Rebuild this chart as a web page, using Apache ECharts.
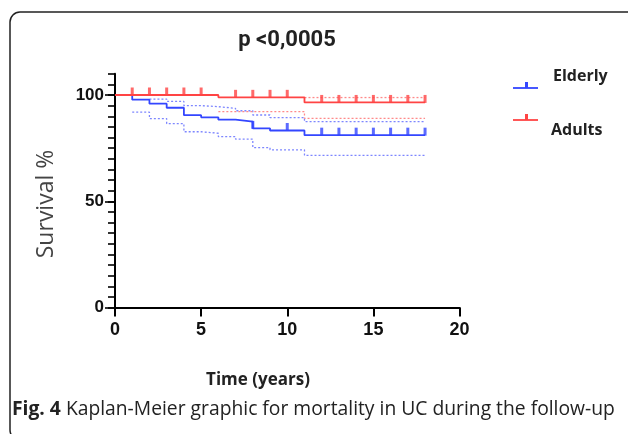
<!DOCTYPE html>
<html><head><meta charset="utf-8">
<script src="https://cdn.jsdelivr.net/npm/echarts@6/dist/echarts.min.js"></script>
<style>html,body{margin:0;padding:0;background:#fff}#c{width:628px;height:434px}</style>
</head><body><div id="c"></div>
<script>
const seriesNames = ['Elderly', 'Adults'];
const elderlyTimes = [0, 1, 2, 3, 4, 5, 6, 7, 8, 9, 11, 18];
const elderlySurv = [100, 97.8, 95.9, 94.0, 90.5, 89.5, 88.4, 87.5, 84.3, 83.3, 81.1, 81.1];
const elderlyUpperTimes = [2, 3, 4, 5, 6, 7, 8, 9, 11, 18];
const elderlyUpper = [98.1, 97.0, 95.0, 94.5, 93.7, 92.6, 90.6, 89.4, 87.5, 87.5];
const elderlyLowerTimes = [1, 2, 3, 4, 5, 6, 7, 8, 9, 11, 18];
const elderlyLower = [91.9, 88.9, 86.5, 82.7, 82.0, 80.4, 79.2, 75.2, 74.2, 71.6, 71.6];
const elderlyCensored = [8, 10, 12, 13, 14, 15, 16, 17, 18];
const adultsTimes = [0, 6, 11, 18];
const adultsSurv = [100, 98.9, 96.5, 96.5];
const adultsUpperTimes = [11, 18];
const adultsUpper = [98.8, 98.8];
const adultsLowerTimes = [6, 11, 18];
const adultsLower = [92.2, 89.0, 89.0];
const adultsCensored = [1, 2, 3, 4, 5, 7, 8, 9, 10, 12, 13, 14, 15, 16, 17, 18];
const xTicks = [0, 5, 10, 15, 20];
const yLabels = [0, 50, 100];
const titleText = 'p <0,0005';
const xName = 'Time (years)';
const yName = 'Survival %';
const captionBold = 'Fig. 4';
const captionRest = ' Kaplan-Meier graphic for mortality in UC during the follow-up';

const colors = { Elderly: '#3346ff', Adults: '#ff4444' };
const ciColors = { Elderly: '#7d86ff', Adults: '#ff8a8a' };

function pairs(t, v) { return t.map((x, i) => [x, v[i]]); }
function survAt(t, v, x) { let s = v[0]; for (let i = 0; i < t.length; i++) { if (t[i] <= x) s = v[i]; } return s; }

const groups = [
  { name: 'Elderly', t: elderlyTimes, s: elderlySurv, ut: elderlyUpperTimes, u: elderlyUpper, lt: elderlyLowerTimes, l: elderlyLower, c: elderlyCensored },
  { name: 'Adults', t: adultsTimes, s: adultsSurv, ut: adultsUpperTimes, u: adultsUpper, lt: adultsLowerTimes, l: adultsLower, c: adultsCensored }
];

const series = [];
groups.forEach(g => {
  [[g.ut, g.u], [g.lt, g.l]].forEach(([tt, vv]) => {
    series.push({ type: 'line', step: 'end', xAxisIndex: 0, yAxisIndex: 0, data: pairs(tt, vv), symbol: 'none', silent: true, z: 2,
      lineStyle: { color: ciColors[g.name], width: 1.3, type: [2, 2] } });
  });
});
groups.forEach(g => {
  series.push({ name: g.name, type: 'line', step: 'end', xAxisIndex: 0, yAxisIndex: 0, data: pairs(g.t, g.s), symbol: 'none', z: 3,
    lineStyle: { color: colors[g.name], width: 1.8 } });
  series.push({ type: 'scatter', xAxisIndex: 0, yAxisIndex: 0, data: g.c.map(x => [x, survAt(g.t, g.s, x)]), symbol: 'rect',
    symbolSize: [3, 8], symbolOffset: [0, -3.5], z: 4, itemStyle: { color: colors[g.name] } });
});

const chart = echarts.init(document.getElementById('c'));
const gridL = 115, gridR = 168.5, gridT = 73.75, gridB = 126.5;
chart.setOption({
  animation: false,
  grid: { left: gridL, right: gridR, top: gridT, bottom: gridB },
  xAxis: [{ type: 'value', min: 0, max: 20, interval: 5,
    axisLine: { lineStyle: { color: '#000', width: 2 } },
    axisTick: { length: 9, lineStyle: { color: '#000', width: 2 } },
    axisLabel: { color: '#111', fontWeight: 'bold', fontSize: 18, fontFamily: 'Liberation Sans', margin: 14 },
    splitLine: { show: false } }],
  yAxis: [
    { type: 'value', min: 0, max: 110, position: 'left',
      axisLine: { lineStyle: { color: '#000', width: 2 } },
      axisTick: { customValues: yLabels, length: 10, lineStyle: { color: '#000', width: 1.6 } },
      axisLabel: { customValues: yLabels, color: '#111', fontWeight: 'bold', fontSize: 17, fontFamily: 'Liberation Sans', margin: 11 },
      splitLine: { show: false } },
    { type: 'value', min: 0, max: 110, interval: 5, position: 'left',
      axisLine: { show: false },
      axisTick: { length: 7, lineStyle: { color: '#000', width: 1.6 } },
      axisLabel: { show: false },
      splitLine: { show: false } }
  ],
  series: series,
  graphic: [
    { type: 'rect', shape: { x: 10, y: 12, width: 640, height: 428, r: 10 }, style: { fill: 'none', stroke: '#222', lineWidth: 1.5 }, silent: true },
    { type: 'text', x: 287, y: 40, style: { text: titleText, fontFamily: 'Roboto', fontWeight: 'bold', fontSize: 22, fill: '#222', align: 'center', verticalAlign: 'middle' } },
    { type: 'text', x: 46, y: 204, rotation: Math.PI / 2, style: { text: yName, fontFamily: 'Open Sans', fontSize: 23, fill: '#444', align: 'center', verticalAlign: 'middle' } },
    { type: 'text', x: 258, y: 380, style: { text: xName, fontFamily: 'Open Sans', fontWeight: 'bold', fontSize: 17, fill: '#222', align: 'center', verticalAlign: 'middle' } },
    { type: 'text', x: 12, y: 410, style: { text: '{b|' + captionBold + '}' + captionRest, fontFamily: 'Open Sans', fontSize: 19.3, fill: '#222', verticalAlign: 'middle',
      rich: { b: { fontFamily: 'Open Sans', fontWeight: 'bold', fontSize: 19.3, fill: '#222' } } } },
    // legend
    { type: 'line', shape: { x1: 513, y1: 88, x2: 538, y2: 88 }, style: { stroke: colors.Elderly, lineWidth: 1.8 } },
    { type: 'rect', shape: { x: 525, y: 82, width: 3, height: 6 }, style: { fill: colors.Elderly } },
    { type: 'text', x: 553, y: 76, style: { text: seriesNames[0], fontFamily: 'Open Sans', fontWeight: 'bold', fontSize: 16, fill: '#222', verticalAlign: 'middle' } },
    { type: 'line', shape: { x1: 513, y1: 120, x2: 538, y2: 120 }, style: { stroke: colors.Adults, lineWidth: 1.8 } },
    { type: 'rect', shape: { x: 525, y: 114, width: 3, height: 6 }, style: { fill: colors.Adults } },
    { type: 'text', x: 551, y: 130, style: { text: seriesNames[1], fontFamily: 'Open Sans', fontWeight: 'bold', fontSize: 16, fill: '#222', verticalAlign: 'middle' } }
  ]
});
</script></body></html>
